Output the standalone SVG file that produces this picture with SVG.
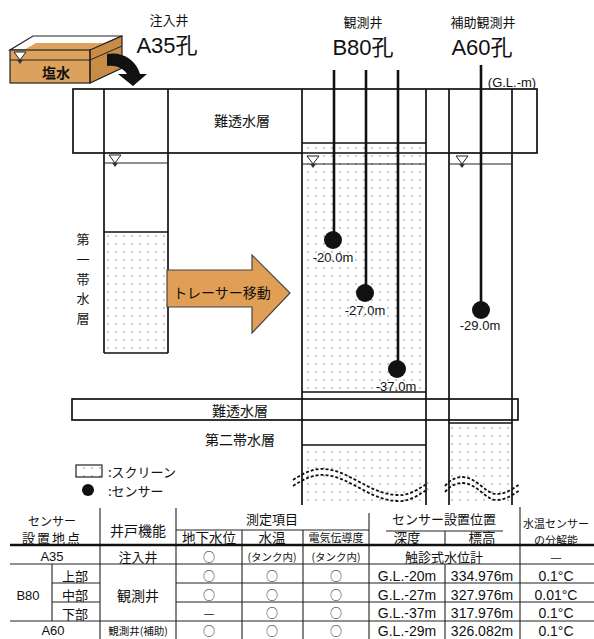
<svg xmlns="http://www.w3.org/2000/svg" width="594" height="639" viewBox="0 0 594 639">
  <style>
    .ln { stroke:#111; stroke-width:1.7; fill:none; }
    .thin { stroke:#222; stroke-width:1.1; fill:none; }
    .pipe { stroke:#111; stroke-width:2.6; fill:none; }
    .wave { stroke:#111; stroke-width:1.8; fill:none; stroke-dasharray:3 2; }
    text { font-family:"Liberation Sans","Noto Sans CJK JP",sans-serif; fill:#111; text-anchor:middle; dominant-baseline:central; }
    .jp { font-family:"Noto Sans CJK JP",sans-serif; }
    .s14 { font-size:14px; }
    .s135 { font-size:13.5px; }
    .s13 { font-size:13px; }
    .s12 { font-size:12px; }
    .s11 { font-size:11px; }
    .s10 { font-size:10.5px; }
    .big { font-size:22px; }
    .mk { font-family:"Noto Sans CJK JP",sans-serif; font-size:12px; }
  </style>
  <defs>
    <pattern id="dots" width="8" height="8" patternUnits="userSpaceOnUse">
      <rect width="8" height="8" fill="#fff"/>
      <circle cx="4" cy="4" r="0.8" fill="#888"/>
    </pattern>
    <!-- water table mark: tip sits on the water line -->
    <g id="wt">
      <path d="M-6,-8 H6 L0,0 Z" fill="#fff" stroke="#222" stroke-width="1"/>
      <path d="M-3,0 H3 L0,4 Z" fill="#333"/>
    </g>
  </defs>

  <!-- salt water tank -->
  <g id="tank">
    <path d="M33,36 L122,36 L90,50 L10,50 Z" fill="#fff" stroke="#222" stroke-width="1.2"/>
    <path d="M36,43 L121,43 L90,58 L10,58 Z" fill="#DDA15E"/>
    <rect x="10" y="50" width="80" height="33" fill="#DDA15E"/>
    <path d="M90,50 L122,36 L122,68 L90,83 Z" fill="#C98C47" stroke="#222" stroke-width="1.2"/>
    <rect x="10" y="50" width="80" height="33" fill="none" stroke="#222" stroke-width="1.2"/>
    <line x1="10" y1="60" x2="90" y2="60" stroke="#222" stroke-width="1"/>
    <line x1="90" y1="60" x2="122" y2="46" stroke="#222" stroke-width="1"/>
    <use href="#wt" x="20" y="60"/>
    <text class="jp s14" x="56" y="72" font-weight="bold">塩水</text>
  </g>

  <!-- injection arrow from tank -->
  <g id="inject-arrow">
    <path d="M107,54 C121,51 136,59 140,74 L147,74 L133,86 L118,74 L127,74 C123,68 116,65 107,66 Z" fill="#111"/>
  </g>

  <!-- well titles -->
  <g id="titles">
    <text class="jp s13" x="169" y="19">注入井</text>
    <text class="big" x="167" y="45">A35孔</text>
    <text class="jp s13" x="363" y="21">観測井</text>
    <text class="big" x="363" y="47">B80孔</text>
    <text class="jp s13" x="483" y="21">補助観測井</text>
    <text class="big" x="482" y="47">A60孔</text>
    <text class="s13" x="512" y="82">(G.L.-m)</text>
  </g>

  <!-- upper aquitard -->
  <g id="aquitard-upper">
    <rect x="73" y="89" width="464" height="64" fill="#fff" stroke="#111" stroke-width="1.7"/>
    <text class="jp s14" x="242" y="120">難透水層</text>
  </g>

  <!-- first aquifer label, one character per line -->
  <g id="aquifer1-label">
    <text class="jp s13" x="83" y="238">第</text>
    <text class="jp s13" x="83" y="258">一</text>
    <text class="jp s13" x="83" y="278">帯</text>
    <text class="jp s13" x="83" y="297.5">水</text>
    <text class="jp s13" x="83" y="317">層</text>
  </g>

  <!-- lower aquitard -->
  <g id="aquitard-lower">
    <rect x="72" y="399" width="446" height="21" fill="#fff" stroke="#111" stroke-width="1.7"/>
    <text class="jp s14" x="240" y="410">難透水層</text>
    <text class="jp s14" x="240" y="439">第二帯水層</text>
  </g>

  <!-- injection well A35 -->
  <g id="well-a35">
    <rect x="104" y="232" width="64" height="121" fill="url(#dots)"/>
    <line class="ln" x1="104" y1="89" x2="104" y2="353"/>
    <line class="ln" x1="168" y1="89" x2="168" y2="353"/>
    <line class="ln" x1="104" y1="353" x2="168" y2="353"/>
    <line class="ln" x1="104" y1="232" x2="168" y2="232"/>
    <line class="thin" x1="104" y1="163" x2="168" y2="163"/>
    <use href="#wt" x="115" y="163"/>
  </g>

  <!-- observation well B80 -->
  <g id="well-b80">
    <rect x="302" y="143" width="124" height="249" fill="url(#dots)"/>
    <rect x="302" y="445" width="124" height="60" fill="url(#dots)"/>
    <line class="ln" x1="302" y1="89" x2="302" y2="505"/>
    <line class="ln" x1="426" y1="89" x2="426" y2="505"/>
    <line class="ln" x1="302" y1="143" x2="426" y2="143"/>
    <line class="ln" x1="302" y1="153" x2="426" y2="153"/>
    <line class="thin" x1="302" y1="164" x2="426" y2="164"/>
    <line class="ln" x1="302" y1="392" x2="426" y2="392"/>
    <line class="ln" x1="302" y1="445" x2="426" y2="445"/>
    <use href="#wt" x="313" y="164"/>
  </g>

  <!-- auxiliary observation well A60 -->
  <g id="well-a60">
    <rect x="449" y="423" width="63" height="82" fill="url(#dots)"/>
    <line class="ln" x1="449" y1="89" x2="449" y2="505"/>
    <line class="ln" x1="512" y1="89" x2="512" y2="505"/>
    <line class="thin" x1="449" y1="164" x2="512" y2="164"/>
    <line class="ln" x1="449" y1="423" x2="512" y2="423"/>
    <use href="#wt" x="462" y="164"/>
  </g>

  <!-- tracer movement arrow -->
  <g id="tracer-arrow">
    <path d="M167,270 H252 V255 L290,293 L252,333 V307 H167 Z" fill="#E09F55" stroke="#444" stroke-width="1.2"/>
    <text class="jp s14" x="222" y="292">トレーサー移動</text>
  </g>

  <!-- sensor cables -->
  <g id="connectors">
    <line class="pipe" x1="334" y1="70" x2="334" y2="240"/>
    <line class="pipe" x1="366" y1="70" x2="366" y2="293"/>
    <line class="pipe" x1="398" y1="70" x2="398" y2="369"/>
    <line class="pipe" x1="481" y1="65" x2="481" y2="310"/>
  </g>
  <!-- sensors with depth labels -->
  <g id="sensors">
    <circle cx="333" cy="240" r="9" fill="#111"/>
    <circle cx="365" cy="293" r="9" fill="#111"/>
    <circle cx="397" cy="369" r="9" fill="#111"/>
    <circle cx="481" cy="310" r="9" fill="#111"/>
    <text class="s13" x="333" y="257">-20.0m</text>
    <text class="s13" x="365" y="310">-27.0m</text>
    <text class="s13" x="396" y="386">-37.0m</text>
    <text class="s13" x="480" y="325">-29.0m</text>
  </g>

  <!-- break marks -->
  <g id="breaks">
    <path class="wave" d="M293,480 C305,472 315,468 325,469 C350,471 370,494 397,495 C410,496 420,488 428,483"/>
    <path class="wave" d="M293,486 C305,478 315,474 325,475 C350,477 370,500 397,501 C410,502 420,494 428,489"/>
    <path class="wave" d="M445,486 C450,480 456,477 463,477 C478,478 485,494 497,494 C506,494 514,488 520,484"/>
    <path class="wave" d="M445,492 C450,486 456,483 463,483 C478,484 485,500 497,500 C506,500 514,494 520,490"/>
  </g>

  <!-- legend -->
  <g id="legend">
    <rect x="76" y="465" width="26" height="12" fill="url(#dots)" stroke="#222" stroke-width="1.2"/>
    <text class="jp s13" x="108" y="471" style="text-anchor:start">:スクリーン</text>
    <circle cx="88" cy="490" r="6" fill="#111"/>
    <text class="jp s13" x="108" y="490" style="text-anchor:start">:センサー</text>
  </g>

  <!-- sensor table -->
  <g id="table">
    <g class="thin">
      <line x1="176" y1="530" x2="369" y2="530"/>
      <line x1="386" y1="531" x2="503" y2="531"/>
      <line x1="10" y1="564" x2="594" y2="564"/>
      <line x1="52" y1="583" x2="100" y2="583"/>
      <line x1="176" y1="583" x2="594" y2="583"/>
      <line x1="52" y1="602" x2="100" y2="602"/>
      <line x1="176" y1="602" x2="594" y2="602"/>
      <line x1="10" y1="621" x2="594" y2="621"/>
      <line x1="100" y1="508" x2="100" y2="639"/>
      <line x1="52" y1="564" x2="52" y2="621"/>
      <line x1="176" y1="508" x2="176" y2="639"/>
      <line x1="242" y1="530" x2="242" y2="639"/>
      <line x1="303" y1="530" x2="303" y2="639"/>
      <line x1="369" y1="513" x2="369" y2="639"/>
      <line x1="445" y1="531" x2="445" y2="545"/>
      <line x1="445" y1="564" x2="445" y2="639"/>
      <line x1="520" y1="507" x2="520" y2="639"/>
    </g>
    <line x1="10" y1="545" x2="594" y2="545" stroke="#111" stroke-width="2.6"/>

    <text class="jp s12" x="52" y="520">センサー</text>
    <text class="jp s13" x="52" y="537" letter-spacing="2">設置地点</text>
    <text class="jp s14" x="138" y="530">井戸機能</text>
    <text class="jp s13" x="272" y="518">測定項目</text>
    <text class="jp s13" x="444" y="518">センサー設置位置</text>
    <text class="jp s11" x="556" y="523">水温センサー</text>
    <text class="jp s11" x="556" y="540">の分解能</text>
    <text class="jp s135" x="209" y="537">地下水位</text>
    <text class="jp s135" x="272" y="537">水温</text>
    <text class="jp s11" x="336" y="537">電気伝導度</text>
    <text class="jp s135" x="407" y="537">深度</text>
    <text class="jp s135" x="482" y="537">標高</text>

    <text class="s13" x="52" y="556">A35</text>
    <text class="jp s13" x="138" y="556">注入井</text>
    <text class="mk" x="209" y="556.5">○</text>
    <text class="jp s10" x="272" y="556">(タンク内)</text>
    <text class="jp s10" x="336" y="556">(タンク内)</text>
    <text class="jp s13" x="444" y="556">触診式水位計</text>
    <text class="jp s13" x="556" y="556">—</text>

    <text class="s13" x="28" y="595">B80</text>
    <text class="jp s14" x="138" y="595">観測井</text>
    <text class="jp s13" x="75" y="575">上部</text>
    <text class="jp s13" x="75" y="594">中部</text>
    <text class="jp s13" x="75" y="613">下部</text>

    <text class="mk" x="209" y="575.5">○</text>
    <text class="mk" x="272" y="575.5">○</text>
    <text class="mk" x="336" y="575.5">○</text>
    <text class="s14" x="407" y="575.5">G.L.-20m</text>
    <text class="s14" x="482" y="575.5">334.976m</text>
    <text class="s14" x="556" y="575.5">0.1°C</text>

    <text class="mk" x="209" y="594">○</text>
    <text class="mk" x="272" y="594">○</text>
    <text class="mk" x="336" y="594">○</text>
    <text class="s14" x="407" y="594.5">G.L.-27m</text>
    <text class="s14" x="482" y="594.5">327.976m</text>
    <text class="s14" x="556" y="594.5">0.01°C</text>

    <text class="mk" x="209" y="612.5">—</text>
    <text class="mk" x="272" y="612.5">○</text>
    <text class="mk" x="336" y="612.5">○</text>
    <text class="s14" x="407" y="613">G.L.-37m</text>
    <text class="s14" x="482" y="613">317.976m</text>
    <text class="s14" x="556" y="613">0.1°C</text>

    <text class="s13" x="53" y="630.5">A60</text>
    <text class="jp s10" x="138" y="630.5">観測井(補助)</text>
    <text class="mk" x="209" y="630.2">○</text>
    <text class="mk" x="272" y="630.2">○</text>
    <text class="mk" x="336" y="630.2">○</text>
    <text class="s14" x="407" y="630.5">G.L.-29m</text>
    <text class="s14" x="482" y="630.5">326.082m</text>
    <text class="s14" x="556" y="630.5">0.1°C</text>
  </g>
</svg>
